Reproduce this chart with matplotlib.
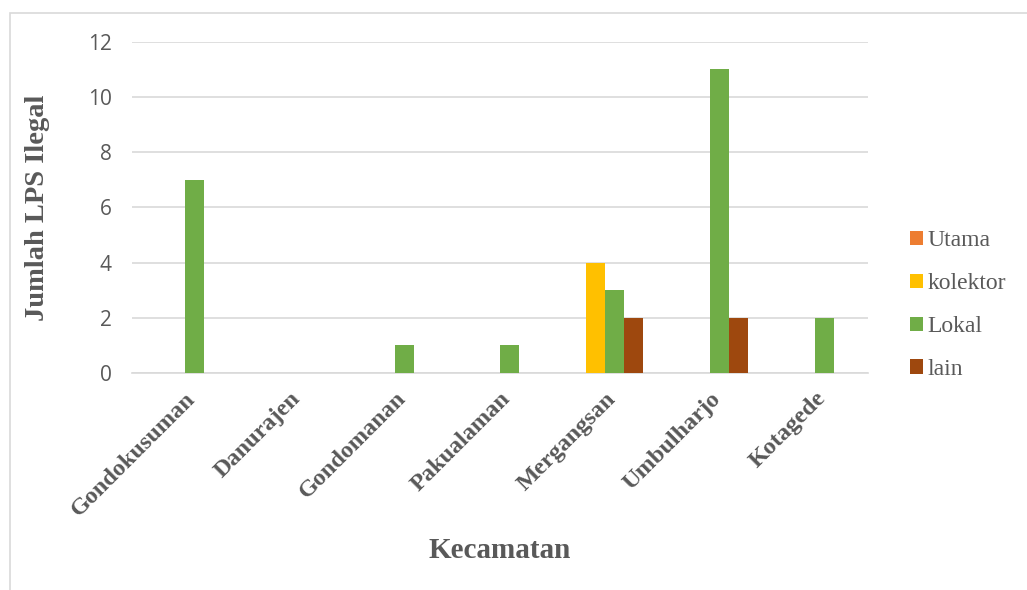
import numpy as np
import matplotlib.pyplot as plt
from matplotlib.patches import Rectangle

kecamatan = ["Gondokusuman", "Danurajen", "Gondomanan", "Pakualaman",
             "Mergangsan", "Umbulharjo", "Kotagede"]
utama = [0, 0, 0, 0, 0, 0, 0]
kolektor = [0, 0, 0, 0, 4, 0, 0]
lokal = [7, 0, 1, 1, 3, 11, 2]
lain = [0, 0, 0, 0, 2, 2, 0]

series = [("Utama", utama, "#ED7D31"),
          ("kolektor", kolektor, "#FFC000"),
          ("Lokal", lokal, "#70AD47"),
          ("lain", lain, "#9E480E")]

fig = plt.figure(figsize=(10.27, 5.9), dpi=100)
ax = fig.add_axes([0.129, 0.368, 0.716, 0.561])

x = np.arange(len(kecamatan))
w = 0.18
for k, (nama, vals, warna) in enumerate(series):
    ax.bar(x + (k - 1.5) * w, vals, w, color=warna, label=nama, zorder=3)

ax.set_xlim(-0.5, len(kecamatan) - 0.5)
ax.set_ylim(0, 12)
ax.set_yticks(range(0, 13, 2))
ax.grid(axis="y", color="#d9d9d9", lw=1.2, zorder=0)
for s in ["top", "right", "left"]:
    ax.spines[s].set_visible(False)
ax.spines["bottom"].set_color("#d9d9d9")
ax.spines["bottom"].set_linewidth(1.2)
ax.tick_params(axis="both", length=0)
ax.tick_params(axis="y", labelcolor="#595959", labelsize=15, pad=15)
for t in ax.get_yticklabels():
    t.set_family("Open Sans")

ax.set_xticks(x)
ax.set_xticklabels(kecamatan, rotation=45, ha="right", rotation_mode="anchor",
                   family="Liberation Serif", fontweight="bold", fontsize=17.5,
                   color="#595959")
ax.tick_params(axis="x", pad=11)

ax.set_xlabel("Kecamatan", family="Liberation Serif", fontweight="bold",
              fontsize=21, color="#595959", labelpad=12)
ax.set_ylabel("Jumlah LPS Ilegal", family="Liberation Serif", fontweight="bold",
              fontsize=20.5, color="#595959", labelpad=27)

leg = ax.legend(loc="center left", bbox_to_anchor=(1.057, 0.205), frameon=False,
                prop={"family": "Liberation Serif", "size": 17},
                labelspacing=0.93, handlelength=0.55, handleheight=0.55,
                handletextpad=0.2, borderpad=0, borderaxespad=0)
for t in leg.get_texts():
    t.set_color("#595959")

fig.patches.append(Rectangle((10 / 1027, -0.05), 1.1, 1 - 13 / 590 + 0.05,
                             transform=fig.transFigure, fill=False,
                             edgecolor="#d9d9d9", lw=1.2))

fig.savefig("out.png", dpi=100)
